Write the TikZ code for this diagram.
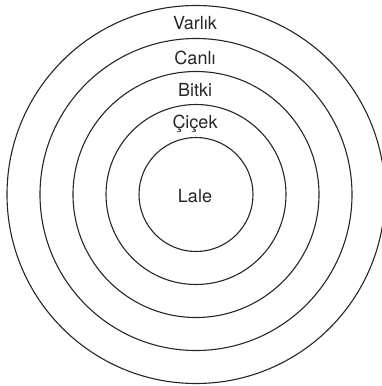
\documentclass[tikz,border=0pt]{standalone}
\usepackage{fontspec}
\setmainfont{TeX Gyre Heros}
\tikzset{
	ring/.style={line width=1.1pt, color=black!85},
	ringlabel/.style={anchor=base, inner sep=0pt, text=black!85, font=\fontsize{18}{20}\selectfont}
}
\begin{document}
\begin{tikzpicture}[x=1pt,y=-1pt]
	\useasboundingbox (0,0) rectangle (381,386);
	\coordinate (O) at (196,194.5);
	
	\foreach \r in {57,90,...,189} {
		\draw[ring] (O) circle (\r pt);
	}
	
	\node[ringlabel] (varlik) at (195,29.5) {Varlık};
	\node[ringlabel] (canli) at (195,64) {Canlı};
	\node[ringlabel] (bitki) at (195,96.5) {Bitki};
	\node[ringlabel] (cicek) at (195,128) {Çiçek};
	\node[ringlabel] (lale) at (195,202) {Lale};
\end{tikzpicture}
\end{document}
